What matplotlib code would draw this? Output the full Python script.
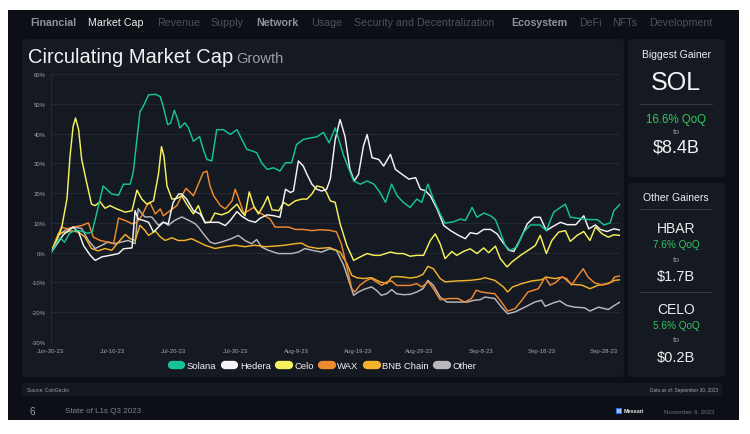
import matplotlib
matplotlib.use("Agg")
import matplotlib.pyplot as plt
import matplotlib.dates as mdates
from matplotlib.patches import FancyBboxPatch, Rectangle
from matplotlib.lines import Line2D
import datetime as dt

plt.rcParams['font.family'] = ['Liberation Sans', 'DejaVu Sans']

# (days since Jun-30-23, % growth)
solana = [(0, 0), (1, 3.5), (1.5, 5), (2.2, 3.5), (3, 6.5), (4, 7.5), (5, 7.2), (6, 6.5), (6.7, 7), (7.3, 12),
          (8.5, 22.4), (9.2, 21), (9.9, 19.7), (11, 19.3), (11.8, 23), (12.9, 23), (13.4, 27), (14.5, 47.4),
          (15, 49), (15.9, 53), (17, 53.2), (17.8, 52.4), (18.3, 49), (19, 43), (19.5, 43.5), (20.1, 47.8),
          (20.6, 45), (21, 41.9), (21.8, 43.6), (22.4, 41.9), (23.2, 37.4), (24.2, 39), (24.8, 34.7),
          (25.4, 31.3), (26.2, 30.8), (27, 41.3), (28.1, 41.3), (29.2, 39.7), (30.3, 41.3), (31.1, 38),
          (31.9, 34.7), (32.7, 34.2), (33.5, 33.6), (34.3, 30.2), (35.2, 28), (36.3, 28.5), (37.3, 27.4),
          (38.2, 30.2), (39.2, 30.2), (40, 36.3), (41.1, 38), (42.2, 38.5), (43.3, 38.9), (44.4, 40.4),
          (45.3, 36.9), (46.3, 41.9), (47.7, 32.4), (49.3, 24.1), (50.4, 23), (51.5, 24.1), (52.6, 23),
          (53.6, 20.2), (54.5, 16.9), (55.5, 23), (56.4, 19.1), (57.4, 16.9), (58.5, 15.2), (59.6, 18),
          (60.4, 16.9), (61.4, 23), (62.3, 18), (63.4, 13), (64.2, 9.9), (65.6, 10.4), (66.7, 11.3),
          (67.5, 10.8), (68.6, 15.2), (69.4, 11.9), (70.5, 13.3), (71.6, 12.4), (72.4, 11.1), (73.2, 6.9),
          (74, 2.4), (74.8, 0.8), (75.9, 1.9), (77, 6.9), (78.1, 9.3), (79.7, 9.3), (80.7, 7.4), (81.9, 13.6),
          (83, 15.2), (83.8, 16.3), (84.6, 11.9), (85.7, 11.6), (86.8, 11.3), (87.9, 11.1), (89, 11.1),
          (90.1, 9.3), (91.1, 10), (91.7, 14.1), (92.7, 16.3)]

hedera = [(0, 0), (1, 3), (2, 6), (3.6, 8.6), (4.5, 6.9), (5.3, 2.4), (6.4, -0.9), (7.2, -2.6), (8.3, -1.4),
          (9.6, -0.9), (11, -0.3), (11.8, 1.3), (13.2, 1.6), (13.7, 14.1), (14.2, 11.3), (15.1, 10.8),
          (15.9, 10.2), (16.7, 6.9), (17.5, 8.6), (18.3, 10.2), (19.1, 9.7), (19.9, 16.9), (20.8, 19.7),
          (21.3, 19.7), (22.1, 18), (23.2, 14.1), (24.3, 13), (25.1, 10.2), (26.2, 10.2), (27.3, 10.2),
          (28.4, 9.1), (29.2, 10.8), (30.3, 13.8), (31.1, 12.2), (32.2, 10.8), (33.3, 10.2), (34.1, 11.6),
          (35.2, 12.7), (36.3, 12.4), (37.3, 11.9), (38.2, 21.3), (39, 20.2), (39.5, 20.7), (40.3, 30.8),
          (41.1, 29.1), (41.7, 26.3), (42.5, 23), (43.3, 21.3), (44.1, 20.7), (44.9, 21.3), (45.5, 24.7),
          (46.3, 38), (47.1, 44.7), (47.9, 39), (48.7, 28), (49.4, 24.1), (50.1, 26.3), (50.9, 35.8),
          (51.5, 39.7), (52.3, 31.9), (53.4, 31.3), (54.2, 29.1), (55.3, 33), (56.1, 28), (57.2, 26.3),
          (58.3, 24.7), (59.4, 25.2), (60.2, 21.3), (61, 20.8), (61.8, 19.1), (62.9, 14.7), (64, 9.1),
          (65.1, 7.4), (66.4, 5.8), (67.5, 4.7), (68.3, 6.7), (69.4, 6.3), (70.5, 7.8), (71.6, 7.8),
          (72.7, 6.3), (73.5, 3.8), (74.6, 0.8), (75.4, 0.4), (76.5, 4.7), (77.6, 9.7), (78.7, 11.9),
          (79.7, 11.9), (80.7, 7.4), (81.6, 8.6), (83, 10.2), (84.1, 9.4), (85.5, 9.4), (86.8, 12.4),
          (87.6, 8), (88.7, 9.3), (89.5, 7.8), (90.6, 7.1), (91.7, 8), (92.7, 7.6)]

celo = [(0, 0), (0.9, 4.1), (1.7, 8), (2.6, 18), (3.1, 32.4), (3.6, 42.4), (4, 45.2), (4.5, 41.3), (5, 31.3),
        (5.8, 23.6), (6.6, 16.3), (7.2, 15.8), (8, 17.1), (8.8, 14.9), (9.6, 15.8), (10.7, 14.7), (12.1, 13.6),
        (13.2, 14.1), (14, 21), (14.8, 18), (15.6, 16.3), (16.7, 17.4), (17.5, 26.3), (18, 35.6), (18.4, 32.4),
        (18.9, 22.4), (19.7, 18), (20.5, 18.2), (21.3, 19.1), (22.1, 16.3), (23.2, 13), (24, 15.8), (24.6, 12.4),
        (25.1, 10), (25.9, 10.2), (26.7, 13.3), (27.8, 12.7), (28.9, 13.6), (30.3, 16.3), (31.1, 13.6),
        (31.6, 12.4), (32.3, 20.4), (33, 15.8), (33.8, 13), (34.6, 15.8), (35.3, 18.9), (36, 14.4), (37.1, 14.1),
        (37.9, 16.9), (38.7, 15.8), (39.8, 17.4), (40.9, 18), (41.7, 18), (42.5, 19.7), (43.3, 22.4),
        (44.3, 21.9), (44.9, 20.2), (45.5, 17.4), (46.3, 16.9), (47.1, 9.7), (48.2, 2.4), (49.3, -2.6),
        (50.4, -1.4), (51.5, -0.3), (52.6, -0.9), (53.6, -0.9), (55.3, 0.2), (56.4, -0.3), (57.4, -0.3),
        (58.5, -1.2), (59.6, -0.9), (60.7, -0.9), (61.8, 4.1), (62.6, 6.3), (63.4, 3), (64.2, -2), (65.3, 0.4),
        (66.1, -0.9), (67.2, 0.4), (68.3, 1.3), (69.4, -0.3), (70.5, 1.6), (71.3, 0), (72.4, 2.2), (73.2, -2),
        (74.3, -4.8), (75.1, -3.1), (76.5, -0.9), (78.1, 1.3), (78.9, 2.4), (79.7, 5.8), (80.7, -0.3),
        (81.6, 4.1), (82.7, 6.9), (83.8, 7.4), (84.6, 3.8), (85.7, 5.8), (86.8, 7.1), (87.8, 4.1), (88.7, 8.6),
        (89.8, 6.3), (90.8, 5.2), (91.7, 6), (92.7, 5.8)]

wax = [(0, 0), (0.9, 4.7), (1.7, 8.6), (2.6, 8), (3.6, 8.6), (5, 9.1), (6.1, 10), (6.9, 5.2), (8, 4.1),
       (9.1, 3.6), (10.2, 3), (11, 11.6), (12.1, 10.8), (13.2, 9.7), (14, 10.2), (14.8, 12.4), (15.6, 15.8),
       (16.1, 16.9), (17, 13), (17.8, 14.7), (18.3, 12.4), (19.4, 14.1), (20.5, 15.8), (21.3, 19.1), (22, 21.6),
       (22.7, 20.2), (23.2, 19.1), (24, 23), (24.8, 26.9), (25.4, 27.4), (25.9, 22.4), (26.5, 19.1),
       (27.6, 15.8), (28.4, 14.7), (29.5, 17.4), (30, 21.3), (30.5, 18.6), (31.4, 13.3), (32.2, 14.1),
       (33, 15.2), (33.8, 13.6), (34.6, 12.7), (35.7, 11.3), (36.5, 8.6), (37.6, 8.6), (38.7, 8.6), (39.8, 7.8),
       (41.1, 7.8), (42.5, 7.4), (43.9, 7.7), (45.4, 7.5), (46.5, 7), (47.3, 3), (48.2, -4.8), (49, -12.1),
       (49.5, -13.2), (50.3, -11), (51.4, -9.3), (52.2, -8.7), (53, -9.8), (53.9, -11), (54.7, -9.8),
       (55.5, -9.5), (56.3, -11), (57.4, -11), (58.5, -11), (59.6, -10.4), (60.4, -11.5), (61.5, -9.8),
       (62.3, -12.1), (63.4, -15.8), (65, -15.4), (66.3, -15.4), (67.4, -16.6), (68.5, -15.4), (69.3, -12.6),
       (70.1, -13.2), (71.1, -13.5), (72.3, -13.8), (73.4, -16.6), (74.4, -19.6), (75.6, -18.8), (76.7, -16),
       (77.7, -13.2), (79.4, -12.1), (80.5, -8.2), (81.3, -10.9), (82.1, -10.2), (83.2, -8.2), (84, -8.7),
       (84.8, -10.9), (85.9, -7.6), (86.7, -5.4), (87.5, -8.2), (88.6, -10.2), (89.9, -10.9), (91.3, -9.8),
       (91.8, -8.2), (92.7, -7.8)]

bnb = [(0, 0), (1.2, 6.4), (2.3, 6.9), (3.4, 7.3), (4.5, 6.9), (5.5, 5.3), (6.6, 1.4), (7.7, 0.6), (8.8, 1.4),
       (9.9, 0.8), (11, 3.6), (12.1, 6.1), (12.9, 4.7), (13.7, 4.1), (14.5, 9.2), (15.3, 7.5), (15.9, 5.8),
       (17, 7.3), (17.8, 5.3), (18.6, 4.1), (19.7, 5), (20.7, 4.1), (21.8, 4.1), (22.9, 4.7), (24, 3.6),
       (25.1, 2.5), (26.7, 1.4), (28.3, 2), (30, 2.5), (31.6, 2), (33.2, 2.5), (34.9, 2), (36.5, 2.2),
       (38.1, 2.5), (39.7, 3), (40.8, 3.2), (41.9, 2), (43.5, 1.4), (45.4, 1.7), (47.1, 0.2), (48.2, -3.7),
       (49, -7.6), (49.8, -8.4), (50.9, -8.7), (52.2, -8.4), (53.6, -9.8), (54.7, -10.4), (55.5, -8.2),
       (56.3, -8), (57.4, -8.2), (58.5, -8.5), (59.6, -8.2), (60.6, -7.3), (61.4, -4.6), (62.3, -5.4),
       (63.4, -8.7), (64.2, -9.8), (66.1, -9.5), (68.3, -9.3), (69.9, -8.9), (70.7, -8.4), (72.3, -9.3),
       (73.7, -11.5), (74.4, -13.2), (75.2, -11.5), (76.7, -10.4), (78.3, -9.5), (79.9, -9.1), (80.7, -8.2),
       (82.1, -8.7), (83.4, -8.2), (84.8, -10.6), (86.5, -10.9), (87.8, -12.1), (89.2, -10.9), (90.8, -10.4),
       (91.8, -9.3), (92.7, -9.1)]

other = [(0, 0), (1.2, 5.8), (2.3, 7.5), (3.9, 8.6), (5, 8.1), (6.1, 4.1), (7.2, 1.4), (8.3, 2.5), (9.3, 3.6),
         (10.4, 3), (11.5, 3.6), (12.6, 4.1), (13.7, 3), (14.2, 14.8), (14.8, 13.1), (15.3, 12), (16.4, 12),
         (17.5, 9.2), (18.3, 10.3), (19.1, 9.2), (20.2, 10.9), (21.3, 12), (22.4, 10.9), (23.5, 9.7), (24, 8.6),
         (24.8, 6.4), (25.9, 3.6), (26.7, 3), (27.8, 3.6), (29.4, 4.7), (30.5, 5.8), (31.6, 4.1), (32.7, 3),
         (33.5, 4.4), (34.3, 1.9), (35.4, 0.8), (37, -0.3), (39.2, -0.3), (40.3, 0.2), (41.4, 1.4), (42.5, 0.8),
         (44.1, 0.2), (45.4, 1.3), (46.5, 0.8), (47.7, -4.3), (48.5, -9.3), (49.3, -14.3), (50.1, -13.2),
         (50.9, -12.4), (52.2, -11.5), (53, -12.6), (53.8, -14.3), (54.7, -13.8), (55.5, -12.4), (56.3, -13.8),
         (57.4, -14.1), (58.5, -14), (59.6, -13.2), (60.6, -12.1), (61.4, -9.3), (62.3, -11), (63.4, -14.9),
         (64.5, -16.6), (66.1, -16.6), (67.8, -16.6), (68.9, -16), (69.9, -15.8), (70.7, -14.9), (72.3, -15.4),
         (73.4, -18.3), (74.4, -20.5), (75.6, -19.9), (77.2, -18.3), (78.8, -16.6), (79.9, -16), (80.5, -18),
         (81.8, -16.9), (82.9, -16.2), (84, -17.7), (85.3, -18.3), (86.9, -18.5), (87.8, -19.6), (89.2, -18.3),
         (90.8, -19.1), (91.8, -17.7), (92.7, -16.6)]

names = ["Solana", "Hedera", "Celo", "WAX", "BNB Chain", "Other"]
series = [solana, hedera, celo, wax, bnb, other]
colors = ["#17c397", "#f4f4f4", "#f6f15c", "#f08a2e", "#f2b22c", "#b9b9bb"]

start = dt.datetime(2023, 6, 30)
tick_days = [0, 10, 20, 30, 40, 50, 60, 70, 80, 90]
y_ticks = [-30, -20, -10, 0, 10, 20, 30, 40, 50, 60]

nav_items = [("Financial", 30, "#8d929a", "bold"), ("Market Cap", 88, "#ececec", "normal"),
             ("Revenue", 157, "#4d525b", "normal"), ("Supply", 210, "#4d525b", "normal"),
             ("Network", 256, "#8d929a", "bold"), ("Usage", 311, "#4d525b", "normal"),
             ("Security and Decentralization", 354, "#4d525b", "normal"),
             ("Ecosystem", 511, "#8d929a", "bold"), ("DeFi", 579, "#4d525b", "normal"),
             ("NFTs", 612, "#4d525b", "normal"), ("Development", 649, "#4d525b", "normal")]

W, H = 750, 435
fig = plt.figure(figsize=(W / 100, H / 100), dpi=100, facecolor="white")


def fx(x):
    return x / W


def fy(y):
    return 1 - y / H


def box(x0, y0, x1, y1, color, r=0.0):
    p = FancyBboxPatch((fx(x0), fy(y1)), fx(x1 - x0), (y1 - y0) / H,
                       boxstyle=f"round,pad=0,rounding_size={r}", transform=fig.transFigure,
                       facecolor=color, edgecolor="none", zorder=-1)
    fig.patches.append(p)


# page background and panels
fig.patches.append(Rectangle((fx(8), fy(421)), fx(731), 410 / H, transform=fig.transFigure,
                             facecolor="#0c0f15", edgecolor="none", zorder=-2))
box(22, 40, 624, 378, "#151922", 0.006)
box(628, 40, 725, 178, "#151922", 0.006)
box(628, 184, 725, 378, "#151922", 0.006)
box(22, 384, 722, 397, "#141820", 0.004)

for label, x, c, w in nav_items:
    fig.text(fx(x), fy(23), label, color=c, fontsize=7.7, fontweight=w, va="center", ha="left")

fig.text(fx(28), fy(63), "Circulating Market Cap", color="#f2f2f2", fontsize=14.5, va="baseline")
fig.text(fx(236), fy(63), "Growth", color="#9a9ea6", fontsize=10.5, va="baseline")

# main chart
ax = fig.add_axes([fx(51), fy(343), fx(620 - 51), (343 - 75) / H])
ax.set_facecolor("none")
x0 = mdates.date2num(start)
for pts, name, c in zip(series[::-1], names[::-1], colors[::-1]):
    xs = [x0 + d for d, v in pts]
    ys = [v for d, v in pts]
    ax.plot(xs, ys, color=c, lw=1.05, solid_joinstyle="round", label=name)

ax.set_xlim(x0, x0 + 92.7)
ax.set_ylim(-30, 60)
ax.set_yticks(y_ticks)
ax.set_yticklabels([f"{t}%" for t in y_ticks])
ax.set_xticks([x0 + d for d in tick_days])
ax.set_xticklabels([f"{(start + dt.timedelta(days=d)):%b}-{(start + dt.timedelta(days=d)).day}-23"
                    for d in tick_days])
ax.tick_params(length=0, labelsize=4.3, colors="#a3a8b0", pad=4)
ax.grid(axis="y", color="#272c36", lw=0.6)
ax.set_axisbelow(True)
for s in ["top", "right", "bottom"]:
    ax.spines[s].set_visible(False)
ax.spines["left"].set_color("#272c36")
ax.spines["left"].set_linewidth(0.6)

handles = [Line2D([0], [0], color=c, lw=6, solid_capstyle="round") for c in colors]
fig.legend(handles, names, loc="center", bbox_to_anchor=(fx(324), fy(367)), ncol=6, frameon=False,
           fontsize=6.8, labelcolor="#f2f2f2", handlelength=1.0, handletextpad=0.6, columnspacing=0.9)

# side panels
green = "#2fc85c"
fig.text(fx(676), fy(55), "Biggest Gainer", color="#eeeeee", fontsize=7.5, ha="center", va="center")
fig.text(fx(676), fy(83), "SOL", color="#f4f4f4", fontsize=18, ha="center", va="center")
fig.lines.append(Line2D([fx(640), fx(712)], [fy(105), fy(105)], transform=fig.transFigure,
                        color="#3a3f49", lw=0.6))
fig.text(fx(676), fy(120), "16.6% QoQ", color=green, fontsize=8.3, ha="center", va="center")
fig.text(fx(676), fy(133), "to", color="#9a9ea6", fontsize=6, ha="center", va="center")
fig.text(fx(676), fy(148), "$8.4B", color="#f4f4f4", fontsize=13, ha="center", va="center")

fig.text(fx(676), fy(198), "Other Gainers", color="#eeeeee", fontsize=7.5, ha="center", va="center")
fig.lines.append(Line2D([fx(640), fx(712)], [fy(210), fy(210)], transform=fig.transFigure,
                        color="#3a3f49", lw=0.6))
fig.lines.append(Line2D([fx(640), fx(712)], [fy(293), fy(293)], transform=fig.transFigure,
                        color="#3a3f49", lw=0.6))
for ytop, tick, pct, val in [(229, "HBAR", "7.6% QoQ", "$1.7B"), (310, "CELO", "5.6% QoQ", "$0.2B")]:
    fig.text(fx(676), fy(ytop), tick, color="#eeeeee", fontsize=10, ha="center", va="center")
    fig.text(fx(676), fy(ytop + 16), pct, color=green, fontsize=7.2, ha="center", va="center")
    fig.text(fx(676), fy(ytop + 31), "to", color="#9a9ea6", fontsize=6, ha="center", va="center")
    fig.text(fx(676), fy(ytop + 48), val, color="#eeeeee", fontsize=10.5, ha="center", va="center")

# source and footer
fig.text(fx(27), fy(390.5), "Source: CoinGecko", color="#a0a4ab", fontsize=3.4, va="center")
fig.text(fx(718), fy(390.5), "Data as of: September 30, 2023", color="#a0a4ab", fontsize=3.4,
         va="center", ha="right")
fig.text(fx(30), fy(412), "6", color="#9a9ea6", fontsize=7, va="center")
fig.text(fx(65), fy(412), "State of L1s Q3 2023", color="#7f848c", fontsize=5.8, va="center")
fig.text(fx(617), fy(412), "M", color="white", fontsize=3.6, va="center", fontweight="bold",
         bbox=dict(boxstyle="square,pad=0.15", fc="#2b6fe0", ec="none"))
fig.text(fx(624), fy(412), "Messari", color="#e6e6e6", fontsize=4, va="center", fontweight="bold")
fig.text(fx(714), fy(412), "November 9, 2023", color="#6f747c", fontsize=4.4, va="center", ha="right")

fig.savefig("out.png", dpi=100, facecolor="white")
